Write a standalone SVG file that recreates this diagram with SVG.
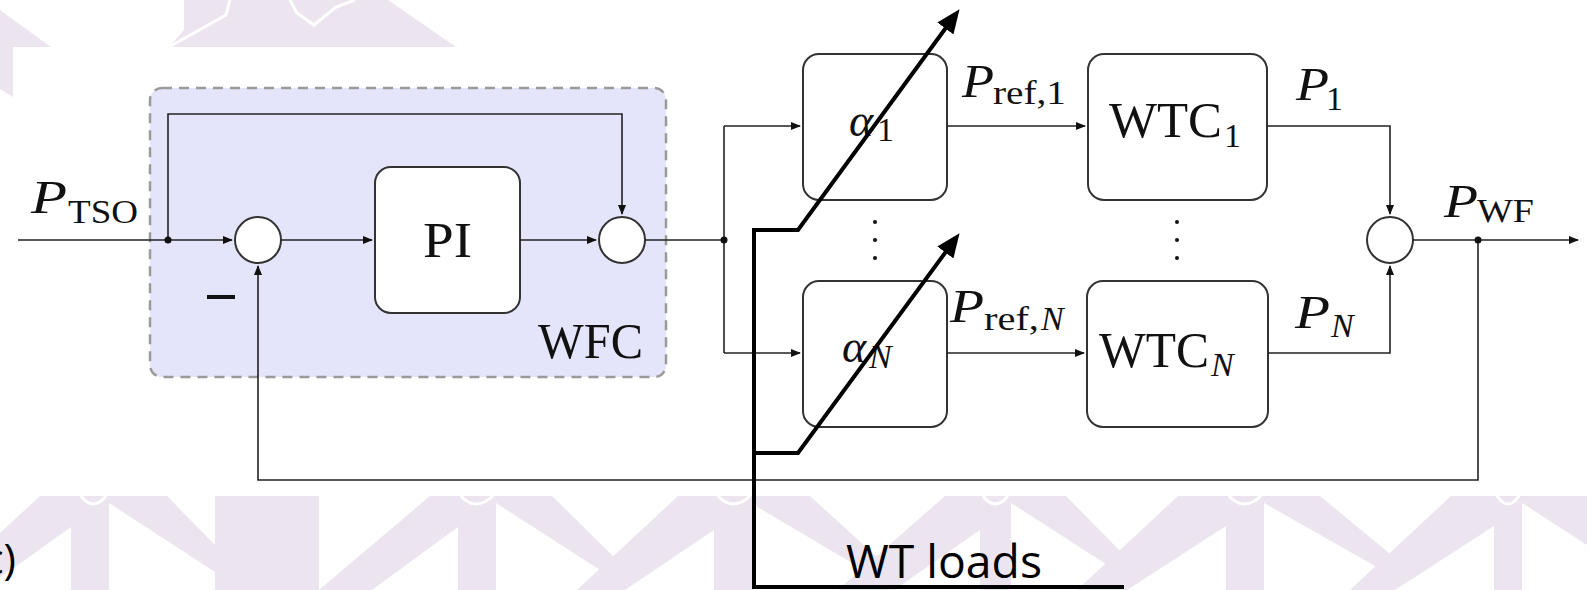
<svg xmlns="http://www.w3.org/2000/svg" width="1587" height="590" viewBox="0 0 1587 590">
<style>
.wm{fill:#ece5ef;stroke:none}
.wml{fill:none;stroke:#ffffff;stroke-width:3}
.box{fill:#ffffff;stroke:#333333;stroke-width:2}
.sum{fill:#ffffff;stroke:#333333;stroke-width:2}
.c{fill:none;stroke:#222222;stroke-width:1.6}
.t{font-family:"Liberation Serif","DejaVu Serif",serif;font-size:50px;fill:#111111}
.p{font-family:"Liberation Serif","DejaVu Serif",serif;font-size:46px;font-style:italic;fill:#111111}
.s{font-family:"Liberation Serif","DejaVu Serif",serif;font-size:34px;fill:#111111}
.si{font-family:"Liberation Serif","DejaVu Serif",serif;font-size:34px;font-style:italic;fill:#111111}
.thick{fill:none;stroke:#000000;stroke-width:4}
.dot{fill:#111111}
</style>
<defs>
<marker id="ar" viewBox="0 0 10 8" refX="9" refY="4" markerWidth="10" markerHeight="8" markerUnits="userSpaceOnUse" orient="auto"><path d="M0,0 L10,4 L0,8 z" fill="#111111"/></marker>
<marker id="big" viewBox="0 0 24 20" refX="18" refY="10" markerWidth="24" markerHeight="20" markerUnits="userSpaceOnUse" orient="auto"><path d="M0,0 L24,10 L0,20 z" fill="#000000"/></marker>
</defs>
<rect x="0" y="0" width="1587" height="590" fill="#ffffff"/>
<g id="watermark">
<polygon class="wm" points="0,10 51,47 13,47 13,97 0,89"/>
<polygon class="wm" points="184,0 388,0 456,47 169,47 184,30"/>
<polyline class="wml" points="169,47 226,15 230,0"/>
<polyline class="wml" points="290,0 297,13 314,25 336,7 355,0"/>
<polygon class="wm" points="40,496 71,496 71,527 15,567 0,577 0,533"/>
<polygon class="wm" points="71,496 109,496 109,590 71,590"/>
<polygon class="wm" points="109,496 167,496 215,545 215,572 109,503"/>
<polygon class="wm" points="215,496 319,496 319,590 215,590"/>
<polygon class="wm" points="319,590 372,590 458,527 458,496 430,496"/>
<polygon class="wm" points="458,496 496,496 496,590 458,590"/>
<polygon class="wm" points="496,496 552,496 615,558 600,570 496,503"/>
<polygon class="wm" points="577,590 625,590 714,530 714,496 678,496"/>
<polygon class="wm" points="714,496 754,496 754,590 714,590"/>
<polygon class="wm" points="754,496 810,496 878,558 864,570 754,505"/>
<polygon class="wm" points="838,590 894,590 980,530 980,496 945,496"/>
<polygon class="wm" points="980,496 1011,496 1011,590 980,590"/>
<polygon class="wm" points="1011,496 1066,496 1125,556 1112,568 1011,503"/>
<polygon class="wm" points="1077,590 1127,590 1226,526 1226,496 1178,496"/>
<polygon class="wm" points="1226,496 1264,496 1264,590 1226,590"/>
<polygon class="wm" points="1264,496 1320,496 1395,558 1382,570 1264,503"/>
<polygon class="wm" points="1350,590 1395,590 1494,526 1494,496 1451,496"/>
<polygon class="wm" points="1494,496 1522,496 1522,590 1494,590"/>
<polygon class="wm" points="1522,496 1587,496 1587,545 1522,503"/>
<path class="wml" d="M81,496 Q93,512 106,496 M461,496 Q475,512 493,496 M718,496 Q733,512 750,496 M983,496 Q995,512 1008,496 M1229,496 Q1244,512 1261,496 M1497,496 Q1508,512 1519,496"/>
</g>
<g id="WFC">
<rect x="150" y="88" width="516" height="289" rx="12" fill="#e4e4fa" stroke="#9a9a9a" stroke-width="2.5" stroke-dasharray="10 7"/>
<text class="t" x="538" y="358" textLength="105" lengthAdjust="spacingAndGlyphs">WFC</text>
</g>
<g id="label_PTSO">
<text class="p" x="31" y="213" textLength="36" lengthAdjust="spacingAndGlyphs">P</text>
<text class="s" x="68" y="223" textLength="70" lengthAdjust="spacingAndGlyphs">TSO</text>
</g>
<g id="sum1">
<circle class="sum" cx="258" cy="240" r="23"/>
<rect x="207" y="295" width="28" height="4" fill="#111111"/>
</g>
<g id="PI">
<rect class="box" x="375" y="167" width="145" height="146" rx="16"/>
<text class="t" x="423" y="257" textLength="49" lengthAdjust="spacingAndGlyphs">PI</text>
</g>
<g id="sum2">
<circle class="sum" cx="622" cy="240" r="23"/>
</g>
<g id="alpha1">
<rect class="box" x="803" y="54" width="144" height="146" rx="16"/>
<text class="p" x="849" y="136">α</text>
<text class="s" x="877" y="141">1</text>
</g>
<g id="alphaN">
<rect class="box" x="803" y="281" width="144" height="146" rx="16"/>
<text class="p" x="842" y="362">α</text>
<text class="si" x="869" y="368">N</text>
</g>
<g id="WTC1">
<rect class="box" x="1088" y="54" width="179" height="146" rx="16"/>
<text class="t" x="1109" y="137" textLength="113" lengthAdjust="spacingAndGlyphs">WTC</text>
<text class="s" x="1224" y="147">1</text>
</g>
<g id="WTCN">
<rect class="box" x="1087" y="281" width="181" height="146" rx="16"/>
<text class="t" x="1099" y="367" textLength="110" lengthAdjust="spacingAndGlyphs">WTC</text>
<text class="si" x="1211" y="376">N</text>
</g>
<g id="sum3">
<circle class="sum" cx="1390" cy="240" r="23"/>
</g>
<g id="dots">
<circle class="dot" cx="875" cy="222" r="2"/><circle class="dot" cx="875" cy="240" r="2"/><circle class="dot" cx="875" cy="258" r="2"/>
<circle class="dot" cx="1177" cy="222" r="2"/><circle class="dot" cx="1177" cy="240" r="2"/><circle class="dot" cx="1177" cy="258" r="2"/>
</g>
<g id="labels">
<text class="p" x="962" y="97" textLength="32" lengthAdjust="spacingAndGlyphs">P</text>
<text class="s" x="993" y="104" textLength="73" lengthAdjust="spacingAndGlyphs">ref,1</text>
<text class="p" x="1296" y="100" textLength="33" lengthAdjust="spacingAndGlyphs">P</text>
<text class="s" x="1326" y="110">1</text>
<text class="p" x="950" y="322" textLength="34" lengthAdjust="spacingAndGlyphs">P</text>
<text class="s" x="984" y="330" textLength="55" lengthAdjust="spacingAndGlyphs">ref,</text>
<text class="si" x="1041" y="330">N</text>
<text class="p" x="1295" y="328" textLength="35" lengthAdjust="spacingAndGlyphs">P</text>
<text class="si" x="1331" y="337">N</text>
<text class="p" x="1444" y="217" textLength="34" lengthAdjust="spacingAndGlyphs">P</text>
<text class="s" x="1477" y="222" textLength="57" lengthAdjust="spacingAndGlyphs">WF</text>
</g>
<g id="connectors">
<path class="c" d="M18,240 H232" marker-end="url(#ar)"/>
<path class="c" d="M168,240 V114 H622 V214" marker-end="url(#ar)"/>
<path class="c" d="M281,240 H372" marker-end="url(#ar)"/>
<path class="c" d="M520,240 H596" marker-end="url(#ar)"/>
<path class="c" d="M645,240 H724"/>
<path class="c" d="M724,126 V353"/>
<path class="c" d="M724,126 H800" marker-end="url(#ar)"/>
<path class="c" d="M724,353 H800" marker-end="url(#ar)"/>
<path class="c" d="M947,126 H1085" marker-end="url(#ar)"/>
<path class="c" d="M947,353 H1084" marker-end="url(#ar)"/>
<path class="c" d="M1267,126 H1390 V214" marker-end="url(#ar)"/>
<path class="c" d="M1268,353 H1390 V266" marker-end="url(#ar)"/>
<path class="c" d="M1413,240 H1578" marker-end="url(#ar)"/>
<path class="c" d="M1478,240 V480 H258 V266" marker-end="url(#ar)"/>
<circle class="dot" cx="168" cy="240" r="3.5"/>
<circle class="dot" cx="724" cy="240" r="3.5"/>
<circle class="dot" cx="1478" cy="240" r="3.5"/>
</g>
<g id="WT_loads">
<path class="thick" d="M754,587 V230 H798 L956,14" marker-end="url(#big)"/>
<path class="thick" d="M754,453 H798 L956,238" marker-end="url(#big)"/>
<path class="thick" d="M752,587 H1124"/>
<text x="846" y="578" font-family="'Open Sans','Noto Sans',sans-serif" font-size="46" textLength="196" lengthAdjust="spacingAndGlyphs" fill="#000000">WT loads</text>
</g>
<text x="16" y="574" text-anchor="end" font-family="'Open Sans','Noto Sans',sans-serif" font-size="42" fill="#000000">c)</text>
</svg>
